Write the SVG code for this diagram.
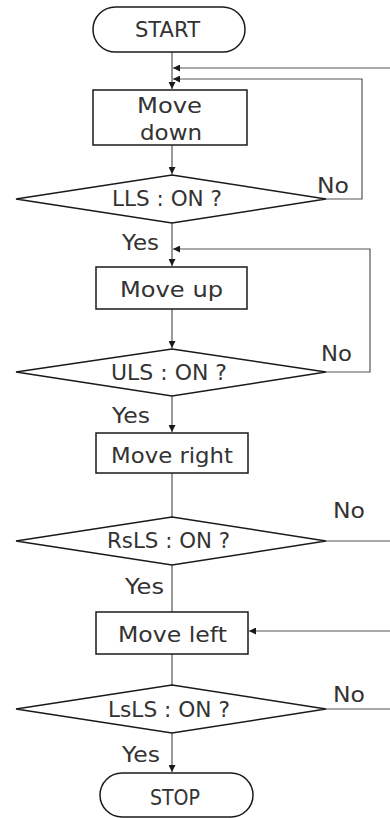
<svg xmlns="http://www.w3.org/2000/svg" width="390" height="818" viewBox="0 0 390 818">
<style>
.s{fill:#fff;stroke:#1a1a1a;stroke-width:1.5}
.c{fill:none;stroke:#555;stroke-width:1.2}
.t{font-family:"DejaVu Sans","Liberation Sans",sans-serif;font-size:22px;fill:#333}
.l{font-family:"DejaVu Sans","Liberation Sans",sans-serif;font-size:22px;fill:#333}
</style>
<defs>
<marker id="a" markerUnits="userSpaceOnUse" markerWidth="8" markerHeight="7" refX="7" refY="3.5" orient="auto">
<path d="M0,0 L7,3.5 L0,7 z" fill="#1a1a1a"/>
</marker>
</defs>
<g id="connectors">
<path class="c" d="M172,52 V89" marker-end="url(#a)"/>
<path class="c" d="M390,68 H173" marker-end="url(#a)"/>
<path class="c" d="M326,199 H362 V79 H173" marker-end="url(#a)"/>
<path class="c" d="M172,145 V174" marker-end="url(#a)"/>
<path class="c" d="M172,223 V266" marker-end="url(#a)"/>
<path class="c" d="M326,372 H370 V249 H173" marker-end="url(#a)"/>
<path class="c" d="M172,309 V348" marker-end="url(#a)"/>
<path class="c" d="M172,396 V432" marker-end="url(#a)"/>
<path class="c" d="M172,473 V517"/>
<path class="c" d="M326,541 H390"/>
<path class="c" d="M172,565 V612"/>
<path class="c" d="M390,631 H249" marker-end="url(#a)"/>
<path class="c" d="M172,654 V685"/>
<path class="c" d="M326,709 H390"/>
<path class="c" d="M172,733 V772" marker-end="url(#a)"/>
</g>
<g id="start">
<rect class="s" x="93" y="7" width="152" height="45" rx="22.5"/>
<text class="t" x="135" y="37" textLength="65" lengthAdjust="spacingAndGlyphs">START</text>
</g>
<g id="move-down">
<rect class="s" x="93" y="90" width="154" height="55"/>
<text class="t" x="137" y="113" textLength="65" lengthAdjust="spacingAndGlyphs">Move</text>
<text class="t" x="140" y="140" textLength="62" lengthAdjust="spacingAndGlyphs">down</text>
</g>
<g id="lls">
<polygon class="s" points="172,175 326,199 172,223 16,199"/>
<text class="t" x="112" y="206" textLength="110" lengthAdjust="spacingAndGlyphs">LLS : ON ?</text>
</g>
<g id="move-up">
<rect class="s" x="96" y="267" width="151" height="42"/>
<text class="t" x="120" y="297" textLength="103" lengthAdjust="spacingAndGlyphs">Move up</text>
</g>
<g id="uls">
<polygon class="s" points="172,349 326,372 172,396 16,372"/>
<text class="t" x="111" y="380" textLength="116" lengthAdjust="spacingAndGlyphs">ULS : ON ?</text>
</g>
<g id="move-right">
<rect class="s" x="96" y="433" width="152" height="40"/>
<text class="t" x="111" y="463" textLength="122" lengthAdjust="spacingAndGlyphs">Move right</text>
</g>
<g id="rsls">
<polygon class="s" points="172,517 326,541 172,565 16,541"/>
<text class="t" x="107" y="548" textLength="123" lengthAdjust="spacingAndGlyphs">RsLS : ON ?</text>
</g>
<g id="move-left">
<rect class="s" x="96" y="612" width="152" height="42"/>
<text class="t" x="118" y="642" textLength="109" lengthAdjust="spacingAndGlyphs">Move left</text>
</g>
<g id="lsls">
<polygon class="s" points="172,685 326,709 172,733 16,709"/>
<text class="t" x="108" y="717" textLength="122" lengthAdjust="spacingAndGlyphs">LsLS : ON ?</text>
</g>
<g id="stop">
<rect class="s" x="100" y="773" width="153" height="44" rx="22"/>
<text class="t" x="150" y="805" textLength="50" lengthAdjust="spacingAndGlyphs">STOP</text>
</g>
<g id="labels">
<text class="l" x="122" y="250" textLength="37" lengthAdjust="spacingAndGlyphs">Yes</text>
<text class="l" x="112" y="423" textLength="38" lengthAdjust="spacingAndGlyphs">Yes</text>
<text class="l" x="125" y="594" textLength="39" lengthAdjust="spacingAndGlyphs">Yes</text>
<text class="l" x="122" y="762" textLength="38" lengthAdjust="spacingAndGlyphs">Yes</text>
<text class="l" x="317" y="193" textLength="32" lengthAdjust="spacingAndGlyphs">No</text>
<text class="l" x="321" y="361" textLength="31" lengthAdjust="spacingAndGlyphs">No</text>
<text class="l" x="333" y="518" textLength="32" lengthAdjust="spacingAndGlyphs">No</text>
<text class="l" x="333" y="702" textLength="32" lengthAdjust="spacingAndGlyphs">No</text>
</g>
</svg>
